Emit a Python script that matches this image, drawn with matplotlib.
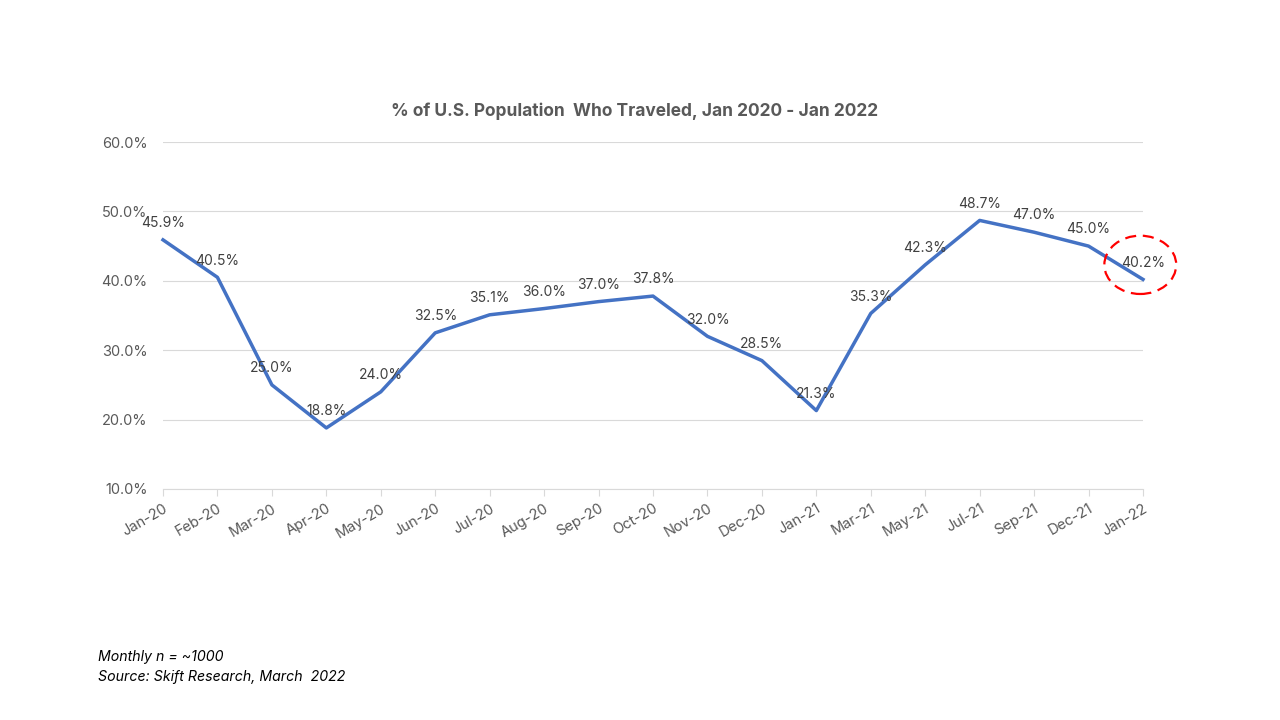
import matplotlib
matplotlib.use("Agg")
import matplotlib.pyplot as plt
from matplotlib.patches import Ellipse

months = ["Jan-20", "Feb-20", "Mar-20", "Apr-20", "May-20", "Jun-20", "Jul-20", "Aug-20",
          "Sep-20", "Oct-20", "Nov-20", "Dec-20", "Jan-21", "Mar-21", "May-21", "Jul-21",
          "Sep-21", "Dec-21", "Jan-22"]
values = [45.9, 40.5, 25.0, 18.8, 24.0, 32.5, 35.1, 36.0, 37.0, 37.8, 32.0, 28.5, 21.3,
          35.3, 42.3, 48.7, 47.0, 45.0, 40.2]
yticks = [10, 20, 30, 40, 50, 60]

plt.rcParams['font.family'] = ['Inter', 'DejaVu Sans']

fig = plt.figure(figsize=(12.8, 7.2), dpi=100)
ax = fig.add_axes([163/1280, 1 - 489/720, (1143-163)/1280, (489-142)/720])

x = list(range(len(months)))
ax.plot(x, values, color="#4472C4", linewidth=2.5, solid_joinstyle="round", clip_on=False, zorder=3)

for xi, v in zip(x, values):
    ax.annotate(f"{v:.1f}%", (xi, v), xytext=(0, 7), textcoords="offset points",
                ha="center", va="bottom", fontsize=10, color="#404040", zorder=4)

ax.set_xlim(0, len(months) - 1)
ax.set_ylim(10, 60)
ax.set_yticks(yticks)
ax.set_yticklabels([f"{t:.1f}%" for t in yticks])
ax.set_xticks(x)
ax.set_xticklabels(months, rotation=30, ha="right", rotation_mode="anchor")

ax.grid(axis="y", color="#d9d9d9", linewidth=0.8)
ax.set_axisbelow(True)
for s in ["top", "right", "left"]:
    ax.spines[s].set_visible(False)
ax.spines["bottom"].set_color("#d9d9d9")
ax.tick_params(axis="x", colors="#595959", labelsize=10.5, length=5, color="#d9d9d9", pad=4)
ax.tick_params(axis="y", colors="#595959", labelsize=10.5, length=0, pad=11)

ell = Ellipse((17.95, 42.3), width=1.32, height=8.4, fill=False, edgecolor="red",
              linestyle=(0, (5, 3)), linewidth=1.6, clip_on=False, zorder=5)
ax.add_patch(ell)

fig.text(635/1280, 1 - 111/720, "% of U.S. Population  Who Traveled, Jan 2020 - Jan 2022",
         ha="center", va="center", fontsize=12.5, fontweight="bold", color="#595959")

fig.text(98/1280, 1 - 657/720, "Monthly n = ~1000", ha="left", va="center",
         fontsize=10.2, style="italic", color="#000000")
fig.text(98/1280, 1 - 677/720, "Source: Skift Research, March  2022", ha="left", va="center",
         fontsize=10.2, style="italic", color="#000000")

fig.savefig("out.png", dpi=100)
